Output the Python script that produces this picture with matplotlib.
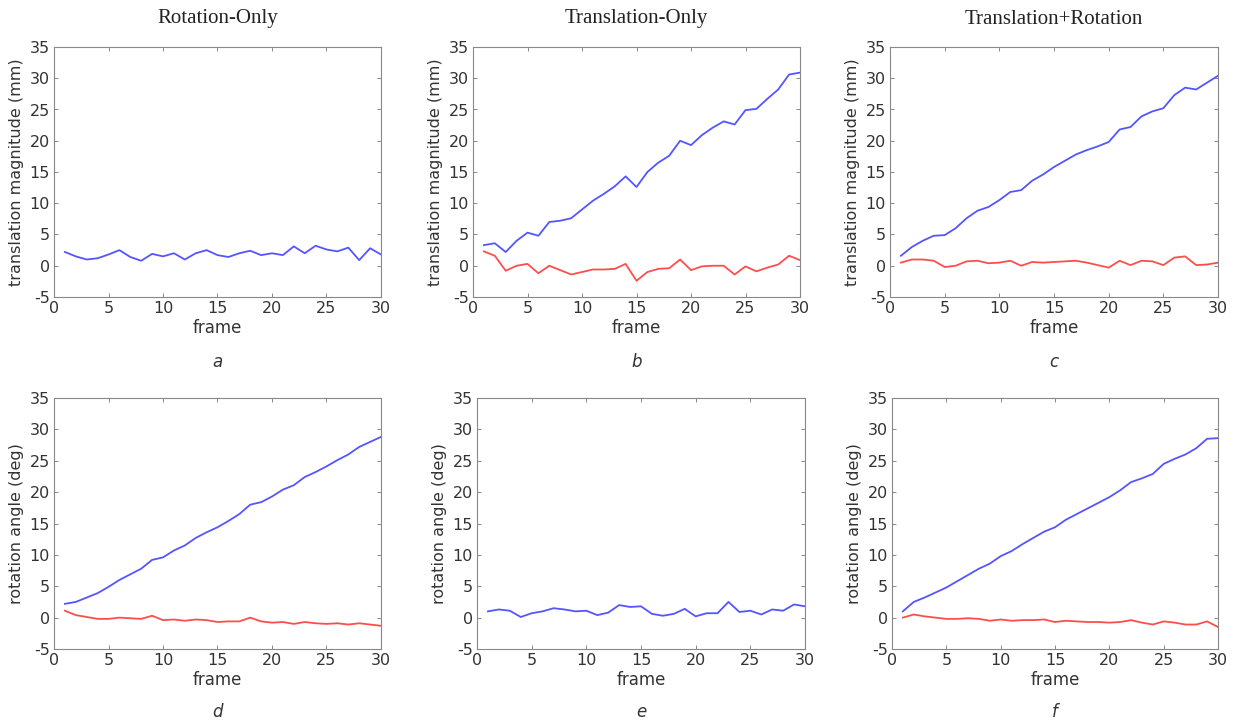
import matplotlib
matplotlib.use("Agg")
import matplotlib.pyplot as plt

plt.rcParams["axes.unicode_minus"] = False

frames = list(range(1, 31))

a_blue = [2.2, 1.5, 1.0, 1.2, 1.8, 2.5, 1.4, 0.8, 1.9, 1.5, 2.0, 1.0, 2.0, 2.5, 1.7,
          1.4, 2.0, 2.4, 1.7, 2.0, 1.7, 3.1, 2.0, 3.2, 2.6, 2.3, 2.9, 0.9, 2.8, 1.8]

b_blue = [3.3, 3.6, 2.2, 4.0, 5.3, 4.8, 7.0, 7.2, 7.6, 9.0, 10.4, 11.5, 12.7, 14.3, 12.6,
          15.0, 16.5, 17.6, 20.0, 19.3, 20.9, 22.1, 23.1, 22.6, 24.9, 25.1, 26.7, 28.2, 30.6, 30.9]
b_red = [2.3, 1.6, -0.8, 0.0, 0.3, -1.2, 0.0, -0.7, -1.4, -1.0, -0.6, -0.6, -0.5, 0.3, -2.4,
         -1.0, -0.5, -0.4, 1.0, -0.7, -0.1, 0.0, 0.0, -1.4, -0.1, -0.9, -0.3, 0.2, 1.6, 0.9]

c_blue = [1.6, 3.0, 4.0, 4.8, 4.9, 6.0, 7.6, 8.8, 9.4, 10.5, 11.8, 12.1, 13.6, 14.6, 15.8,
          16.8, 17.8, 18.5, 19.1, 19.8, 21.8, 22.2, 23.9, 24.7, 25.2, 27.3, 28.5, 28.2, 29.3, 30.4]
c_red = [0.5, 1.0, 1.0, 0.8, -0.2, 0.0, 0.7, 0.8, 0.4, 0.5, 0.8, 0.0, 0.6, 0.5, 0.6,
         0.7, 0.8, 0.5, 0.1, -0.3, 0.8, 0.1, 0.8, 0.7, 0.1, 1.3, 1.5, 0.1, 0.2, 0.5]

d_blue = [2.2, 2.5, 3.2, 3.9, 4.9, 6.0, 6.9, 7.8, 9.2, 9.6, 10.7, 11.5, 12.7, 13.6, 14.4,
          15.4, 16.5, 18.0, 18.4, 19.3, 20.4, 21.1, 22.4, 23.2, 24.1, 25.1, 26.0, 27.2, 28.0, 28.8]
d_red = [1.1, 0.4, 0.1, -0.2, -0.2, 0.0, -0.1, -0.2, 0.3, -0.4, -0.3, -0.5, -0.3, -0.4, -0.7,
         -0.6, -0.6, 0.0, -0.6, -0.8, -0.7, -1.0, -0.7, -0.9, -1.0, -0.9, -1.1, -0.9, -1.1, -1.3]

e_blue = [1.0, 1.3, 1.1, 0.1, 0.7, 1.0, 1.5, 1.3, 1.0, 1.1, 0.4, 0.8, 2.0, 1.7, 1.8,
          0.6, 0.3, 0.6, 1.4, 0.2, 0.7, 0.7, 2.5, 0.9, 1.1, 0.5, 1.3, 1.1, 2.1, 1.8]

f_blue = [1.0, 2.5, 3.2, 4.0, 4.8, 5.8, 6.8, 7.8, 8.6, 9.8, 10.6, 11.7, 12.7, 13.7, 14.4,
          15.6, 16.5, 17.4, 18.3, 19.2, 20.3, 21.6, 22.2, 22.9, 24.5, 25.3, 26.0, 27.0, 28.5, 28.6]
f_red = [0.0, 0.5, 0.2, 0.0, -0.2, -0.2, -0.1, -0.2, -0.5, -0.3, -0.5, -0.4, -0.4, -0.3, -0.7,
         -0.5, -0.6, -0.7, -0.7, -0.8, -0.7, -0.4, -0.8, -1.1, -0.6, -0.8, -1.1, -1.1, -0.6, -1.5]

col_titles = ["Rotation-Only", "Translation-Only", "Translation+Rotation"]
panel_letters = ["a", "b", "c", "d", "e", "f"]
ylabels = ["translation magnitude (mm)", "rotation angle (deg)"]
xticks = [0, 5, 10, 15, 20, 25, 30]
yticks = [-5, 0, 5, 10, 15, 20, 25, 30, 35]

panels = [
    [(a_blue, None), (b_blue, b_red), (c_blue, c_red)],
    [(d_blue, d_red), (e_blue, None), (f_blue, f_red)],
]

BLUE = "#5555ff"
RED = "#ff4d4d"
TXT = "#333333"
FRAME = "#888888"

W, H = 1236, 722
fig = plt.figure(figsize=(W / 100, H / 100), dpi=100)

# pixel boxes: (left, top, right, bottom)
boxes = [
    [(54, 47, 381, 297), (473, 47, 800, 297), (890, 47, 1218, 297)],
    [(54, 398, 381, 649), (477, 398, 805, 649), (892, 398, 1218, 649)],
]

for r in range(2):
    for c in range(3):
        l, t, rr, b = boxes[r][c]
        ax = fig.add_axes([l / W, 1 - b / H, (rr - l) / W, (b - t) / H])
        blue, red = panels[r][c]
        ax.plot(frames, blue, color=BLUE, lw=1.3)
        if red is not None:
            ax.plot(frames, red, color=RED, lw=1.3)
        ax.set_xlim(0, 30)
        ax.set_ylim(-5, 35)
        ax.set_xticks(xticks)
        ax.set_yticks(yticks)
        ax.tick_params(direction="in", length=3, width=0.7, colors=FRAME,
                       labelcolor=TXT, labelsize=11.5, top=True, right=True, pad=3)
        for s in ax.spines.values():
            s.set_color(FRAME)
            s.set_linewidth(0.8)
        ax.set_xlabel("frame", fontsize=12, color=TXT, labelpad=2)
        ax.set_ylabel(ylabels[r], fontsize=11.5, color=TXT, labelpad=4)
        cx = (l + rr) / 2 / W
        fig.text(cx, 1 - (362 if r == 0 else 712) / H, panel_letters[r * 3 + c],
                 ha="center", va="center", fontsize=12, style="italic", color=TXT)
        if r == 0:
            fig.text(cx, 1 - 19 / H, col_titles[c], ha="center", va="center",
                     fontsize=15, family="Liberation Serif", color="#222222")

fig.savefig("out.png", dpi=100, facecolor="white")
